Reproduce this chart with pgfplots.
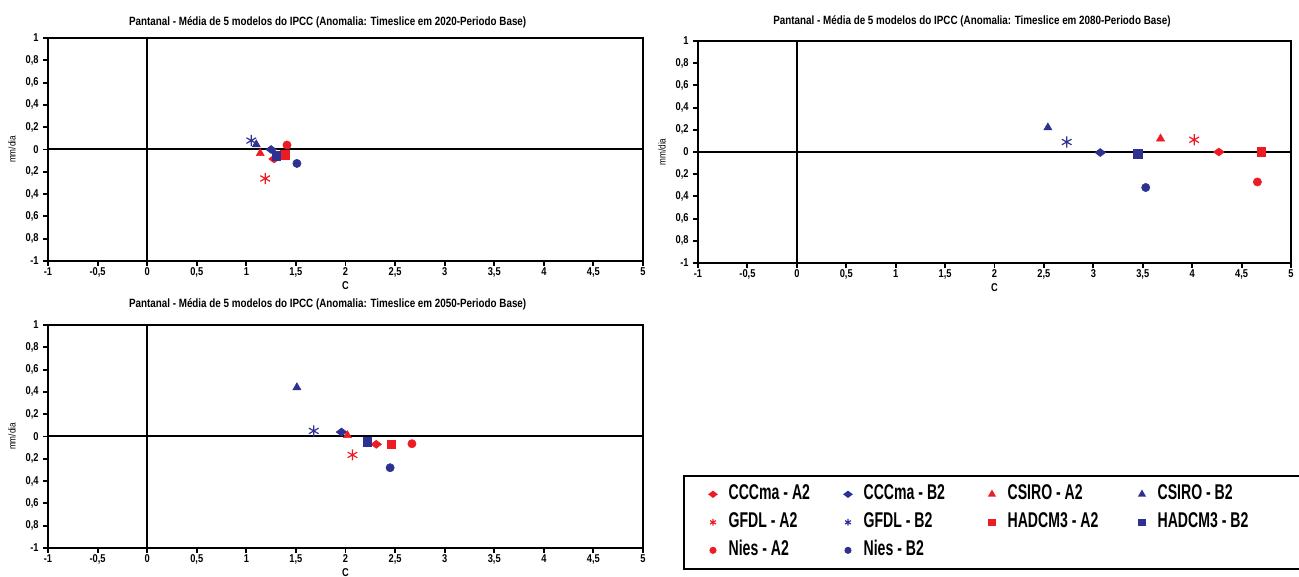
\documentclass[border=0pt]{standalone}
\usepackage{fontspec}
\setmainfont{Liberation Sans}[FakeStretch=0.82]
\newfontfamily\legfont{Liberation Sans}[FakeStretch=0.66]
\usepackage{pgfplots}
\pgfplotsset{compat=1.18}
\definecolor{cred}{HTML}{ED1C24}
\definecolor{cblue}{HTML}{2E3192}
\pgfplotsset{
  panel/.style={
    scale only axis, width=446.25pt, height=167.25pt,
    xmin=-1, xmax=5, ymin=-1, ymax=1,
    axis line style={line width=1.6pt},
    xtick={-1,-0.5,0,0.5,1,1.5,2,2.5,3,3.5,4,4.5,5},
    ytick={-1,-0.8,-0.6,-0.4,-0.2,0,0.2,0.4,0.6,0.8,1},
    xticklabels={-1,{-0,5},0,{0,5},1,{1,5},2,{2,5},3,{3,5},4,{4,5},5},
    yticklabels={-1,{0,8},{0,6},{0,4},{0,2},0,{0,2},{0,4},{0,6},{0,8},1},
    tick align=outside, tick pos=left,
    major tick length=3.5pt,
    every tick/.style={black, line width=1.4pt},
    tick label style={font=\bfseries\fontsize{8.5}{9}\selectfont},
    xticklabel style={inner sep=1.5pt},
    xlabel={C},
    xlabel style={font=\bfseries\fontsize{8.5}{9}\selectfont, at={(axis description cs:0.5,-0.112)}, anchor=center},
    ylabel={mm/dia},
    ylabel style={font=\fontsize{7.5}{8}\selectfont, at={(axis description cs:-0.0605,0.5)}, anchor=center},
    title style={font=\bfseries\fontsize{9}{10}\selectfont, at={(axis description cs:0.47,1)}, anchor=center},
  },
  ccA/.style={only marks, color=cred, mark=diamond*, mark size=4pt, mark options={rotate=90}},
  ccB/.style={only marks, color=cblue, mark=diamond*, mark size=4pt, mark options={rotate=90}},
  csA/.style={only marks, color=cred, mark=triangle*, mark size=3.5pt},
  csB/.style={only marks, color=cblue, mark=triangle*, mark size=3.5pt},
  gfA/.style={only marks, color=cred, mark=asterisk, mark size=4.2pt, mark options={line width=0.9pt}},
  gfB/.style={only marks, color=cblue, mark=asterisk, mark size=4.2pt, mark options={line width=0.9pt}},
  haA/.style={only marks, color=cred, mark=square*, mark size=3.2pt},
  haB/.style={only marks, color=cblue, mark=square*, mark size=3.2pt},
  niA/.style={only marks, color=cred, mark=*, mark size=3.1pt},
  niB/.style={only marks, color=cblue, mark=*, mark size=3.1pt},
}
\newcommand{\zerolines}{%
  \draw[line width=1.5pt] (axis cs:-1,0) -- (axis cs:5,0);
  \draw[line width=1.5pt] (axis cs:0,-1) -- (axis cs:0,1);}
\begin{document}
\begin{tikzpicture}
\useasboundingbox (0,0) rectangle (974.25pt,432.75pt);

% ---- 2020 ----
\begin{axis}[panel, at={(36pt,237pt)}, anchor=south west,
  title style={yshift=6pt},
  title={Pantanal - Média de 5 modelos do IPCC (Anomalia: Timeslice em 2020-Periodo Base)}]
\zerolines
\addplot[ccA] coordinates {(1.28,-0.085)};
\addplot[ccB] coordinates {(1.25,0.0)};
\addplot[csA] coordinates {(1.14,-0.035)};
\addplot[csB] coordinates {(1.10,0.045)};
\addplot[gfA] coordinates {(1.19,-0.26)};
\addplot[gfB] coordinates {(1.05,0.08)};
\addplot[haA] coordinates {(1.39,-0.045)};
\addplot[haB] coordinates {(1.30,-0.055)};
\addplot[niA] coordinates {(1.41,0.04)};
\addplot[niB] coordinates {(1.51,-0.125)};
\end{axis}

% ---- 2080 ----
\begin{axis}[panel, at={(523.5pt,235.5pt)}, anchor=south west,
  width=444.75pt, height=166.5pt,
  title style={at={(axis description cs:0.462,1)}, yshift=9pt},
  title={Pantanal - Média de 5 modelos do IPCC (Anomalia: Timeslice em 2080-Periodo Base)}]
\zerolines
\addplot[ccA] coordinates {(4.27,0.0)};
\addplot[ccB] coordinates {(3.07,-0.005)};
\addplot[csA] coordinates {(3.68,0.12)};
\addplot[csB] coordinates {(2.54,0.22)};
\addplot[gfA] coordinates {(4.02,0.11)};
\addplot[gfB] coordinates {(2.73,0.09)};
\addplot[haA] coordinates {(4.70,0.0)};
\addplot[haB] coordinates {(3.45,-0.015)};
\addplot[niA] coordinates {(4.66,-0.27)};
\addplot[niB] coordinates {(3.53,-0.32)};
\end{axis}

% ---- 2050 ----
\begin{axis}[panel, at={(36pt,21.75pt)}, anchor=south west,
  title style={yshift=9.75pt},
  title={Pantanal - Média de 5 modelos do IPCC (Anomalia: Timeslice em 2050-Periodo Base)},
  legend columns=4,
  legend cell align=left,
  legend image code/.code={\path (-4pt,0pt) (9pt,0pt); \draw[#1] plot coordinates {(0pt,0pt)};},
  legend image post style={/tikz/every mark/.append style={scale=0.6}},
  legend style={at={(axis description cs:1.0672,0.3274)}, anchor=north west,
    draw=black, line width=1.5pt, inner xsep=17pt, inner ysep=4pt,
    font=\legfont\bfseries\fontsize{16}{18}\selectfont,
    nodes={inner sep=2pt, text height=12pt, text depth=3.5pt},
    row sep=1.5pt,
    /tikz/every even column/.append style={column sep=0pt}},
]
\zerolines
\addplot[ccA] coordinates {(2.31,-0.07)};
\addlegendentry{\makebox[82.75pt][l]{CCCma - A2}}
\addplot[ccB] coordinates {(1.96,0.04)};
\addlegendentry{\makebox[89.5pt][l]{CCCma - B2}}
\addplot[csA] coordinates {(2.02,0.01)};
\addlegendentry{\makebox[94pt][l]{CSIRO - A2}}
\addplot[csB] coordinates {(1.51,0.44)};
\addlegendentry{\makebox[92.25pt][l]{CSIRO - B2}}
\addplot[gfA] coordinates {(2.07,-0.165)};
\addlegendentry{GFDL - A2}
\addplot[gfB] coordinates {(1.68,0.05)};
\addlegendentry{GFDL - B2}
\addplot[haA] coordinates {(2.46,-0.07)};
\addlegendentry{HADCM3 - A2}
\addplot[haB] coordinates {(2.22,-0.045)};
\addlegendentry{HADCM3 - B2}
\addplot[niA] coordinates {(2.67,-0.065)};
\addlegendentry{Nies - A2}
\addplot[niB] coordinates {(2.45,-0.28)};
\addlegendentry{Nies - B2}
\end{axis}
\end{tikzpicture}
\end{document}
